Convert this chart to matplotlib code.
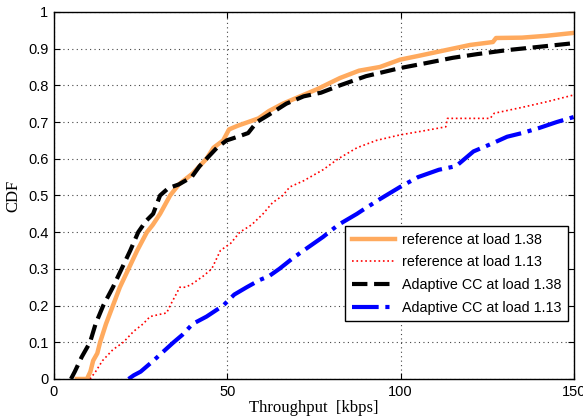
import matplotlib
matplotlib.use("Agg")
import matplotlib.pyplot as plt

# throughput [kbps] vs empirical CDF, four runs
ref_138_x = [6.6, 9.5, 10.5, 11.3, 12.5, 13.3, 15, 17, 19, 21.5, 24, 26.8, 28.5, 30.6, 33.5, 36, 40, 44, 46, 48.8,
             50.5, 53, 56, 59, 62, 66, 71, 76, 82.5, 88, 94, 99.8, 105, 110, 115, 120, 126.6, 127.5, 135, 142, 150]
ref_138_y = [0, 0, 0.02, 0.05, 0.07, 0.1, 0.15, 0.2, 0.25, 0.3, 0.35, 0.4, 0.42, 0.45, 0.5, 0.53, 0.56, 0.6, 0.63, 0.65,
             0.68, 0.69, 0.7, 0.71, 0.73, 0.75, 0.77, 0.79, 0.82, 0.84, 0.85, 0.87, 0.88, 0.89, 0.9, 0.91, 0.918, 0.929,
             0.93, 0.935, 0.943]

ref_113_x = [10.4, 12, 14, 17, 20, 23, 25.7, 27.7, 30, 32.5, 33.5, 36.3, 38, 40, 43, 45.5, 48, 51, 53.6, 57, 60.3,
             63, 66, 68, 72, 77.6, 82, 87.4, 93, 99.8, 106, 113, 113.5, 120, 125.8, 127, 135, 142, 150]
ref_113_y = [0, 0.02, 0.05, 0.08, 0.1, 0.13, 0.15, 0.17, 0.175, 0.18, 0.2, 0.25, 0.25, 0.26, 0.28, 0.3, 0.35, 0.37,
             0.4, 0.42, 0.45, 0.48, 0.5, 0.523, 0.54, 0.57, 0.6, 0.63, 0.65, 0.665, 0.675, 0.687, 0.71, 0.71, 0.71,
             0.724, 0.74, 0.755, 0.774]

acc_138_x = [4.9, 6, 8, 10.4, 12, 14.2, 17, 19.5, 22, 24.3, 26.5, 28.6, 30.6, 33, 36, 39.7, 42, 44, 47, 49.8, 53, 56,
             58.5, 62, 67, 72, 77, 82.5, 90, 99.8, 107, 115, 122, 130.7, 140, 150]
acc_138_y = [0, 0.02, 0.06, 0.1, 0.15, 0.2, 0.25, 0.3, 0.35, 0.4, 0.43, 0.45, 0.5, 0.52, 0.53, 0.55, 0.58, 0.6, 0.63,
             0.65, 0.66, 0.67, 0.7, 0.72, 0.75, 0.77, 0.78, 0.8, 0.825, 0.847, 0.86, 0.875, 0.885, 0.896, 0.905, 0.915]

acc_113_x = [21.5, 23, 25, 28.7, 31, 34.5, 37, 40, 44, 48.8, 52, 55.6, 59.4, 62, 65, 69, 72, 77.6, 82, 87.4, 89, 94,
             99.8, 105, 111, 116, 121, 126, 130.7, 135, 140, 145, 150]
acc_113_y = [0, 0.01, 0.02, 0.05, 0.07, 0.1, 0.12, 0.15, 0.17, 0.2, 0.23, 0.25, 0.27, 0.28, 0.3, 0.33, 0.35, 0.387,
             0.42, 0.45, 0.46, 0.49, 0.523, 0.55, 0.57, 0.58, 0.62, 0.64, 0.66, 0.67, 0.684, 0.7, 0.714]

x_ticks = [0, 50, 100, 150]
y_ticks = [0, 0.1, 0.2, 0.3, 0.4, 0.5, 0.6, 0.7, 0.8, 0.9, 1]
y_tick_labels = ["0", "0.1", "0.2", "0.3", "0.4", "0.5", "0.6", "0.7", "0.8", "0.9", "1"]

fig = plt.figure(figsize=(5.83, 4.19), dpi=100)
ax = fig.add_axes([0.0926, 0.0955, 0.892, 0.876])

ax.plot(ref_138_x, ref_138_y, color="#ffaa5e", lw=3.2, label="reference at load 1.38")
ax.plot(ref_113_x, ref_113_y, color="#ff0000", lw=1.2, ls=":", label="reference at load 1.13")
ax.plot(acc_138_x, acc_138_y, color="black", lw=3.0, ls="--", label="Adaptive CC at load 1.38")
ax.plot(acc_113_x, acc_113_y, color="#0000ff", lw=3.0, ls="-.", label="Adaptive CC at load 1.13")

ax.set_xlim(0, 150)
ax.set_ylim(0, 1)
ax.set_xticks(x_ticks)
ax.set_yticks(y_ticks)
ax.set_yticklabels(y_tick_labels)
ax.tick_params(direction="in", top=True, right=True, labelsize=10.5, length=4, pad=4)
for lab in ax.get_xticklabels() + ax.get_yticklabels():
    lab.set_family("Liberation Sans")
ax.grid(True, ls=(0, (1, 3)), color="#444444", lw=0.8)
for sp in ax.spines.values():
    sp.set_linewidth(1.0)

ax.set_xlabel("Throughput  [kbps]", family="Liberation Serif", fontsize=12, labelpad=1)
ax.set_ylabel("CDF", family="Liberation Serif", fontsize=12, labelpad=5)

leg = ax.legend(loc="lower right", bbox_to_anchor=(0.988, 0.158), fancybox=False, framealpha=1,
                edgecolor="black", handlelength=3.0, handletextpad=0.5, borderpad=0.45, labelspacing=0.6,
                prop={"family": "Liberation Sans", "size": 10.3}, borderaxespad=0)
leg.get_frame().set_linewidth(1.0)

fig.savefig("out.png", dpi=100)
